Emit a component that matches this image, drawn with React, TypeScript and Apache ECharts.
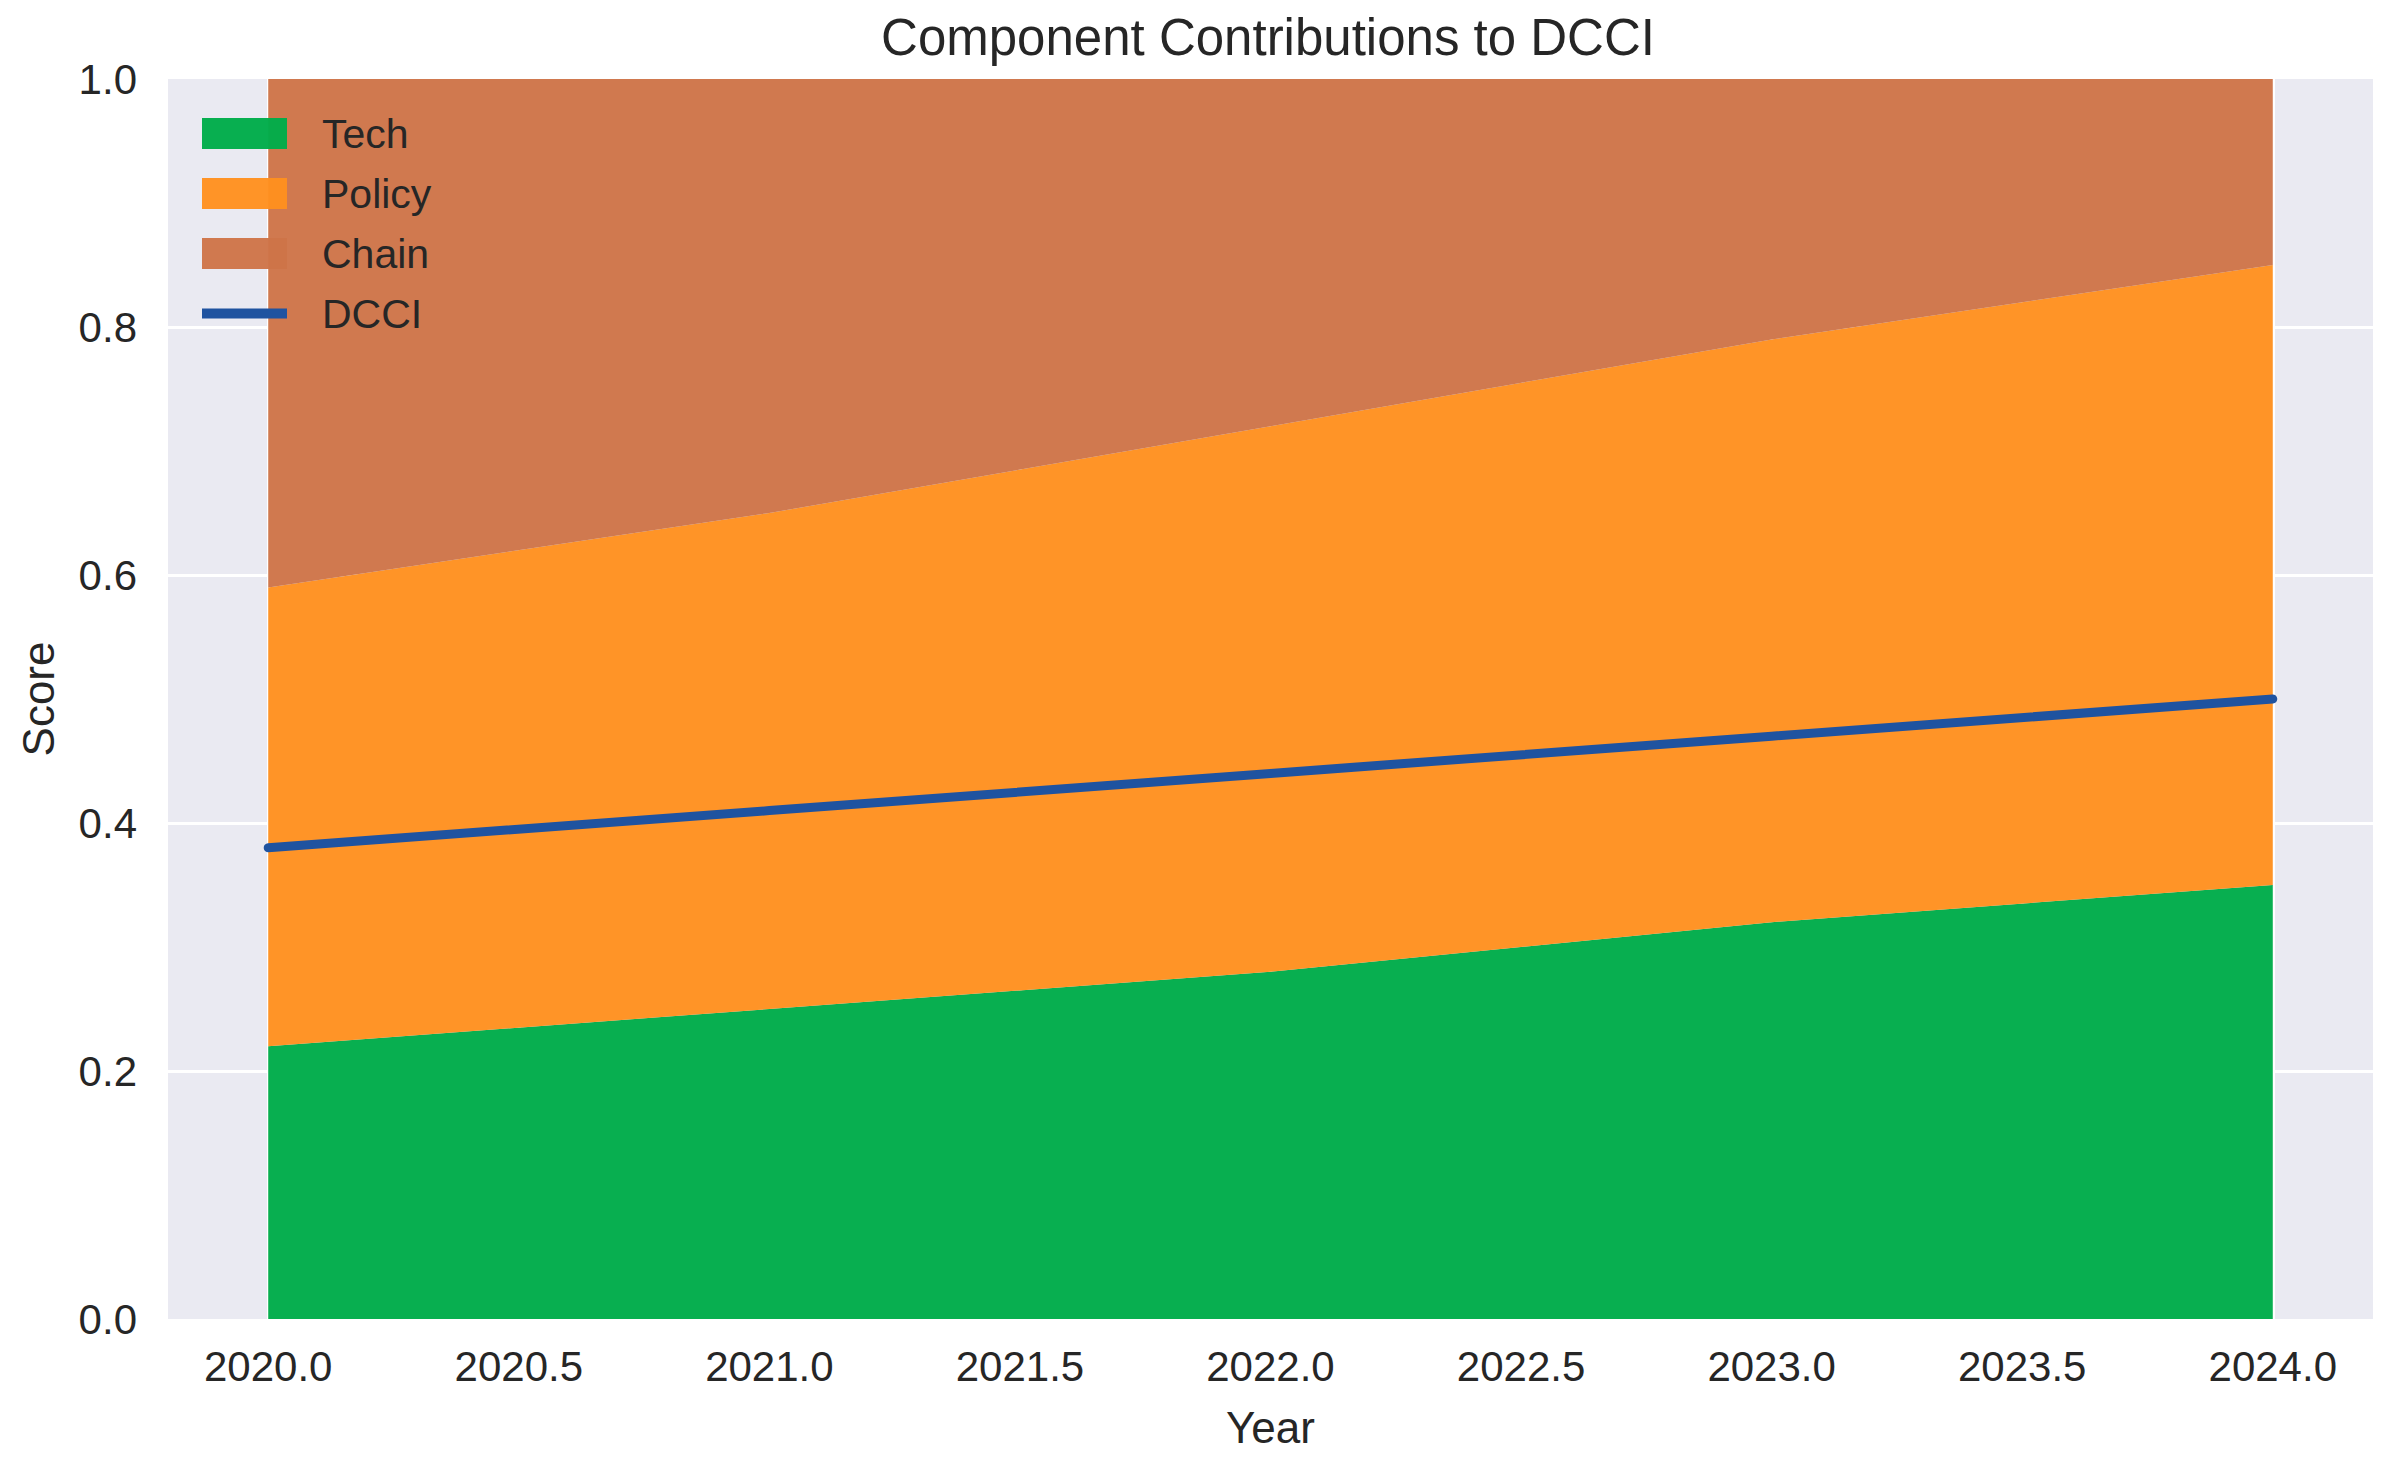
import * as echarts from 'echarts'
import React, { useEffect, useRef } from 'react'

// values
const years = [2020, 2021, 2022, 2023, 2024]
const tech = [0.22, 0.25, 0.28, 0.32, 0.35]
const policy = [0.37, 0.4, 0.44, 0.47, 0.5]
const chain = [0.41, 0.35, 0.28, 0.21, 0.15]
const dcci = [0.38, 0.41, 0.44, 0.47, 0.5]
const xTicks = [2020, 2020.5, 2021, 2021.5, 2022, 2022.5, 2023, 2023.5, 2024]

const FONT = "'Liberation Sans', Arial, sans-serif"
const TEXT = '#262626'
const TECH_COLOR = 'rgba(0, 172, 74, 0.97)'
const POLICY_COLOR = 'rgba(255, 144, 30, 0.96)'
const CHAIN_COLOR = 'rgba(206, 116, 72, 0.96)'
const DCCI_COLOR = '#1f53a0'

// value first so that the stack sums the y values, year second (encoded on x)
const pairs = (vals: number[]) => years.map((y, i) => [vals[i], y])

const areaSeries = (name: string, vals: number[], color: string, extra: any = {}) => ({
  name,
  type: 'line',
  stack: 'total',
  data: pairs(vals),
  encode: { x: 1, y: 0 },
  symbol: 'none',
  lineStyle: { width: 0 },
  itemStyle: { color },
  areaStyle: { color, opacity: 1 },
  z: 2,
  ...extra
})

const App: React.FC = () => {
  const chartRef = useRef<HTMLDivElement>(null)

  useEffect(() => {
    const chart = echarts.init(chartRef.current!, undefined, { renderer: 'svg' })
    chart.setOption({
      animation: false,
      backgroundColor: '#ffffff',
      textStyle: { fontFamily: FONT },
      title: {
        text: 'Component Contributions to DCCI',
        left: 1260,
        top: 4,
        padding: 0,
        textAlign: 'center',
        textStyle: { fontSize: 51, fontWeight: 'normal', color: TEXT, fontFamily: FONT }
      },
      legend: {
        orient: 'vertical',
        left: 194,
        top: 105,
        padding: 0,
        itemWidth: 85,
        itemHeight: 31,
        itemGap: 19,
        textStyle: { fontSize: 41, color: TEXT, fontFamily: FONT, padding: [0, 0, 0, 30] },
        data: [
          { name: 'Tech', icon: 'rect' },
          { name: 'Policy', icon: 'rect' },
          { name: 'Chain', icon: 'rect' },
          { name: 'DCCI', icon: 'path://M0,0L85,0L85,10L0,10Z' }
        ]
      },
      grid: {
        left: 156,
        right: 7,
        top: 71,
        bottom: 131,
        show: true,
        backgroundColor: '#eaeaf2',
        borderWidth: 0
      },
      xAxis: {
        type: 'value',
        min: 2019.8,
        max: 2024.2,
        name: 'Year',
        nameLocation: 'middle',
        nameGap: 86,
        nameTextStyle: { fontSize: 44, color: TEXT, fontFamily: FONT },
        axisLine: { show: false },
        axisTick: { show: false },
        splitLine: { show: false },
        axisLabel: {
          customValues: xTicks,
          formatter: (v: number) => v.toFixed(1),
          fontSize: 42,
          color: TEXT,
          margin: 26,
          fontFamily: FONT
        }
      },
      yAxis: {
        type: 'value',
        min: 0,
        max: 1,
        interval: 0.2,
        name: 'Score',
        nameLocation: 'middle',
        nameGap: 108,
        nameRotate: 90,
        nameTextStyle: { fontSize: 44, color: TEXT, fontFamily: FONT },
        axisLine: { show: false },
        axisTick: { show: false },
        axisLabel: {
          formatter: (v: number) => v.toFixed(1),
          fontSize: 42,
          color: TEXT,
          margin: 31,
          fontFamily: FONT
        },
        splitLine: {
          show: true,
          showMinLine: false,
          showMaxLine: false,
          lineStyle: { color: '#ffffff', width: 3 }
        }
      },
      series: [
        areaSeries('Tech', tech, TECH_COLOR, {
          // vertical grid lines, drawn under the areas
          markLine: {
            silent: true,
            symbol: 'none',
            z: 1,
            label: { show: false },
            lineStyle: { color: '#ffffff', width: 3, type: 'solid' },
            data: xTicks.map((x) => ({ xAxis: x }))
          }
        }),
        areaSeries('Policy', policy, POLICY_COLOR),
        areaSeries('Chain', chain, CHAIN_COLOR),
        {
          name: 'DCCI',
          type: 'line',
          data: pairs(dcci),
          encode: { x: 1, y: 0 },
          symbol: 'none',
          itemStyle: { color: DCCI_COLOR },
          lineStyle: { color: DCCI_COLOR, width: 9, cap: 'round' },
          z: 5
        }
      ]
    })
    return () => {
      chart.dispose()
    }
  }, [])

  return <div ref={chartRef} style={{ width: 2372, height: 1446 }} />
}

export default App
